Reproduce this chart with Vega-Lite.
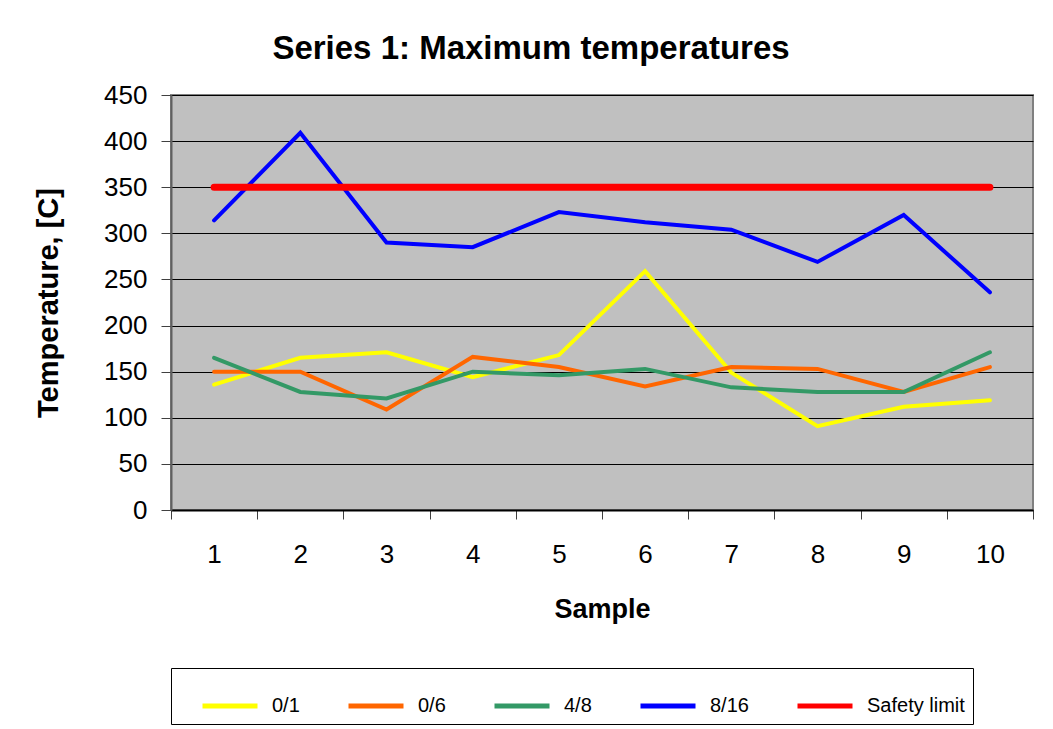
{
  "$schema": "https://vega.github.io/schema/vega-lite/v6.json",
  "autosize": {"type": "none"},
  "width": 862,
  "height": 415,
  "padding": {"left": 171, "top": 95, "right": 20, "bottom": 219},
  "background": "white",
  "config": {
    "view": {"fill": "#C0C0C0", "stroke": "#808080", "strokeWidth": 2},
    "font": "Liberation Sans"
  },
  "title": {
    "text": "Series 1: Maximum temperatures",
    "font": "Liberation Sans",
    "fontSize": 33,
    "fontWeight": "bold",
    "color": "black",
    "anchor": "middle",
    "frame": "group",
    "dx": -71,
    "dy": 35,
    "baseline": "alphabetic",
    "offset": 25
  },
  "data": {
    "values": [
      {"sample": 1, "series": "0/1", "temp": 136},
      {"sample": 2, "series": "0/1", "temp": 165},
      {"sample": 3, "series": "0/1", "temp": 171},
      {"sample": 4, "series": "0/1", "temp": 144},
      {"sample": 5, "series": "0/1", "temp": 168},
      {"sample": 6, "series": "0/1", "temp": 259},
      {"sample": 7, "series": "0/1", "temp": 149},
      {"sample": 8, "series": "0/1", "temp": 91},
      {"sample": 9, "series": "0/1", "temp": 112},
      {"sample": 10, "series": "0/1", "temp": 119},
      {"sample": 1, "series": "0/6", "temp": 150},
      {"sample": 2, "series": "0/6", "temp": 150},
      {"sample": 3, "series": "0/6", "temp": 109},
      {"sample": 4, "series": "0/6", "temp": 166},
      {"sample": 5, "series": "0/6", "temp": 155},
      {"sample": 6, "series": "0/6", "temp": 134},
      {"sample": 7, "series": "0/6", "temp": 155},
      {"sample": 8, "series": "0/6", "temp": 153},
      {"sample": 9, "series": "0/6", "temp": 128},
      {"sample": 10, "series": "0/6", "temp": 155},
      {"sample": 1, "series": "4/8", "temp": 165},
      {"sample": 2, "series": "4/8", "temp": 128},
      {"sample": 3, "series": "4/8", "temp": 121},
      {"sample": 4, "series": "4/8", "temp": 150},
      {"sample": 5, "series": "4/8", "temp": 146},
      {"sample": 6, "series": "4/8", "temp": 153},
      {"sample": 7, "series": "4/8", "temp": 133},
      {"sample": 8, "series": "4/8", "temp": 128},
      {"sample": 9, "series": "4/8", "temp": 128},
      {"sample": 10, "series": "4/8", "temp": 171},
      {"sample": 1, "series": "8/16", "temp": 314},
      {"sample": 2, "series": "8/16", "temp": 409},
      {"sample": 3, "series": "8/16", "temp": 290},
      {"sample": 4, "series": "8/16", "temp": 285},
      {"sample": 5, "series": "8/16", "temp": 323},
      {"sample": 6, "series": "8/16", "temp": 312},
      {"sample": 7, "series": "8/16", "temp": 304},
      {"sample": 8, "series": "8/16", "temp": 269},
      {"sample": 9, "series": "8/16", "temp": 320},
      {"sample": 10, "series": "8/16", "temp": 236},
      {"sample": 1, "series": "Safety limit", "temp": 350},
      {"sample": 2, "series": "Safety limit", "temp": 350},
      {"sample": 3, "series": "Safety limit", "temp": 350},
      {"sample": 4, "series": "Safety limit", "temp": 350},
      {"sample": 5, "series": "Safety limit", "temp": 350},
      {"sample": 6, "series": "Safety limit", "temp": 350},
      {"sample": 7, "series": "Safety limit", "temp": 350},
      {"sample": 8, "series": "Safety limit", "temp": 350},
      {"sample": 9, "series": "Safety limit", "temp": 350},
      {"sample": 10, "series": "Safety limit", "temp": 350}
    ]
  },
  "mark": {"type": "line", "strokeCap": "round", "strokeJoin": "miter"},
  "encoding": {
    "x": {
      "field": "sample",
      "type": "ordinal",
      "bandPosition": 0.5,
      "scale": {"type": "band", "paddingInner": 0, "paddingOuter": 0},
      "axis": {
        "title": "Sample",
        "titleFont": "Liberation Sans",
        "titleFontSize": 27,
        "titleFontWeight": "bold",
        "titleColor": "black",
        "titlePadding": 29,
        "labelAngle": 0,
        "labelFont": "Liberation Sans",
        "labelFontSize": 26,
        "labelColor": "black",
        "labelPadding": 22,
        "tickBand": "extent",
        "tickSize": 9,
        "tickColor": "#404040",
        "domainColor": "black",
        "domainWidth": 2,
        "grid": false
      }
    },
    "y": {
      "field": "temp",
      "type": "quantitative",
      "scale": {"domain": [0, 450], "nice": false, "zero": true},
      "axis": {
        "title": "Temperature, [C]",
        "titleFont": "Liberation Sans",
        "titleFontSize": 29,
        "titleFontWeight": "bold",
        "titleColor": "black",
        "titlePadding": 40,
        "values": [0, 50, 100, 150, 200, 250, 300, 350, 400, 450],
        "labelFont": "Liberation Sans",
        "labelFontSize": 26,
        "labelColor": "black",
        "labelPadding": 14,
        "tickSize": 10,
        "tickColor": "#404040",
        "domainColor": "#606060",
        "domainWidth": 2,
        "grid": true,
        "gridColor": "black",
        "gridWidth": 1
      }
    },
    "color": {
      "field": "series",
      "type": "nominal",
      "sort": ["0/1", "0/6", "4/8", "8/16", "Safety limit"],
      "scale": {
        "domain": ["0/1", "0/6", "4/8", "8/16", "Safety limit"],
        "range": ["#FFFF00", "#FF6600", "#339966", "#0000FF", "#FF0000"]
      },
      "legend": {
        "title": null,
        "orient": "none",
        "legendX": 0,
        "legendY": 573,
        "direction": "horizontal",
        "columns": 5,
        "symbolType": "stroke",
        "symbolSize": 3025,
        "symbolStrokeWidth": 5,
        "symbolOffset": 21,
        "labelFont": "Liberation Sans",
        "labelFontSize": 20,
        "labelColor": "black",
        "labelOffset": 12,
        "columnPadding": 25,
        "padding": 8,
        "strokeColor": "black",
        "fillColor": "white"
      }
    },
    "strokeWidth": {
      "condition": {"test": "datum.series === 'Safety limit'", "value": 7},
      "value": 4
    }
  }
}
